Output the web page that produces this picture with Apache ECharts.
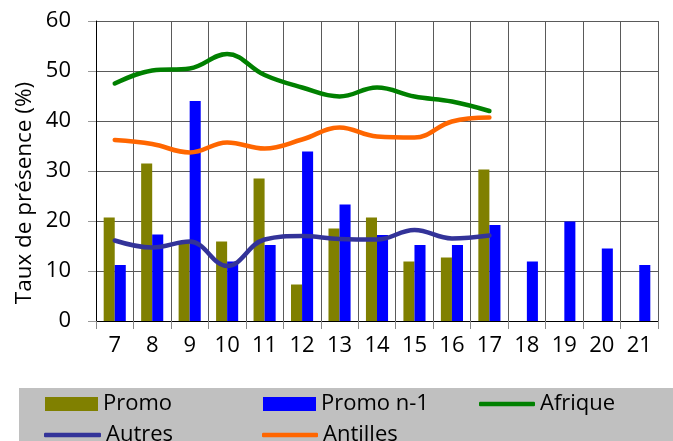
<!DOCTYPE html>
<html>
<head>
<meta charset="utf-8">
<script src="https://cdn.jsdelivr.net/npm/echarts@6/dist/echarts.min.js"></script>
<style>html,body{margin:0;padding:0;background:#fff;}#c{width:673px;height:441px;}</style>
</head>
<body>
<div id="c"></div>
<script>
const categories = ['7','8','9','10','11','12','13','14','15','16','17','18','19','20','21'];
const promo =    [20.7, 31.5, 16.0, 15.9, 28.5, 7.3, 18.5, 20.7, 11.9, 12.7, 30.3, null, null, null, null];
const promoN1 =  [11.2, 17.3, 44.0, 11.9, 15.2, 33.9, 23.3, 17.2, 15.2, 15.2, 19.2, 11.9, 19.9, 14.5, 11.2];
const afrique =  [47.5, 50.1, 50.5, 53.4, 49.2, 46.7, 44.9, 46.7, 44.9, 43.9, 42.0, null, null, null, null];
const antilles = [36.2, 35.4, 33.7, 35.7, 34.5, 36.3, 38.7, 36.9, 36.7, 39.9, 40.7, null, null, null, null];
const autres =   [16.1, 14.7, 15.9, 11.0, 16.3, 17.0, 16.4, 16.3, 18.2, 16.5, 17.1, null, null, null, null];
const yTicks = { min: 0, max: 60, interval: 10 };
const yTitle = 'Taux de présence (%)';

const font = '"Open Sans", "Noto Sans", sans-serif';
const chart = echarts.init(document.getElementById('c'), null, { renderer: 'canvas' });
const gridColor = '#5a5a5a';

function legendAt(name, left, top, icon, width, height) {
  return {
    data: [name], left: left, top: top, padding: 0, orient: 'horizontal',
    itemWidth: width, itemHeight: height, icon: icon, itemGap: 0,
    textStyle: { fontFamily: font, fontSize: 22, color: '#000' },
    selectedMode: false
  };
}

chart.setOption({
  animation: false,
  backgroundColor: '#fff',
  graphic: [
    { type: 'rect', shape: { x: 19, y: 388, width: 654, height: 60 }, style: { fill: '#C0C0C0' }, z: -1 },
    { type: 'text', x: 25, y: 193, rotation: Math.PI / 2,
      style: { text: yTitle, font: '22.5px ' + font, fill: '#000', align: 'center', verticalAlign: 'middle' } }
  ],
  grid: { left: 96, right: 15, top: 21, bottom: 120, containLabel: false },
  legend: [
    legendAt('Promo', 45, 393, 'rect', 53, 14),
    legendAt('Promo n-1', 263, 393, 'rect', 53, 14),
    legendAt('Afrique', 479, 393, 'roundRect', 56, 4.5),
    legendAt('Autres', 44, 424, 'roundRect', 57, 4.5),
    legendAt('Antilles', 262, 424, 'roundRect', 56, 4.5)
  ],
  xAxis: {
    type: 'category', data: categories, boundaryGap: true,
    axisLine: { show: true, lineStyle: { color: '#000', width: 1 } },
    axisTick: { show: true, length: 8, lineStyle: { color: '#888' }, interval: 0 },
    axisLabel: { fontFamily: font, fontSize: 22, color: '#000', margin: 14, interval: 0 },
    splitLine: { show: true, interval: 0, lineStyle: { color: gridColor, width: 1 } }
  },
  yAxis: {
    type: 'value', min: yTicks.min, max: yTicks.max, interval: yTicks.interval,
    axisLine: { show: true, lineStyle: { color: '#000', width: 1 } },
    axisTick: { show: true, length: 8, lineStyle: { color: '#999' } },
    axisLabel: { fontFamily: font, fontSize: 22, color: '#000', margin: 25 },
    splitLine: { show: true, lineStyle: { color: gridColor, width: 1 } }
  },
  series: [
    { name: 'Promo', type: 'bar', data: promo, barGap: '0%', barCategoryGap: '41%', itemStyle: { color: '#808000' }, z: 2 },
    { name: 'Promo n-1', type: 'bar', data: promoN1, barGap: '0%', barCategoryGap: '41%', itemStyle: { color: '#0000FF' }, z: 2 },
    { name: 'Afrique', type: 'line', data: afrique, smooth: 0.4, symbol: 'none', showSymbol: false,
      lineStyle: { color: '#008000', width: 4.5, cap: 'round' }, itemStyle: { color: '#008000' }, z: 5 },
    { name: 'Autres', type: 'line', data: autres, smooth: 0.4, symbol: 'none', showSymbol: false,
      lineStyle: { color: '#333399', width: 4.5, cap: 'round' }, itemStyle: { color: '#333399' }, z: 5 },
    { name: 'Antilles', type: 'line', data: antilles, smooth: 0.4, symbol: 'none', showSymbol: false,
      lineStyle: { color: '#FF6600', width: 4.5, cap: 'round' }, itemStyle: { color: '#FF6600' }, z: 5 }
  ]
});
</script>
</body>
</html>
